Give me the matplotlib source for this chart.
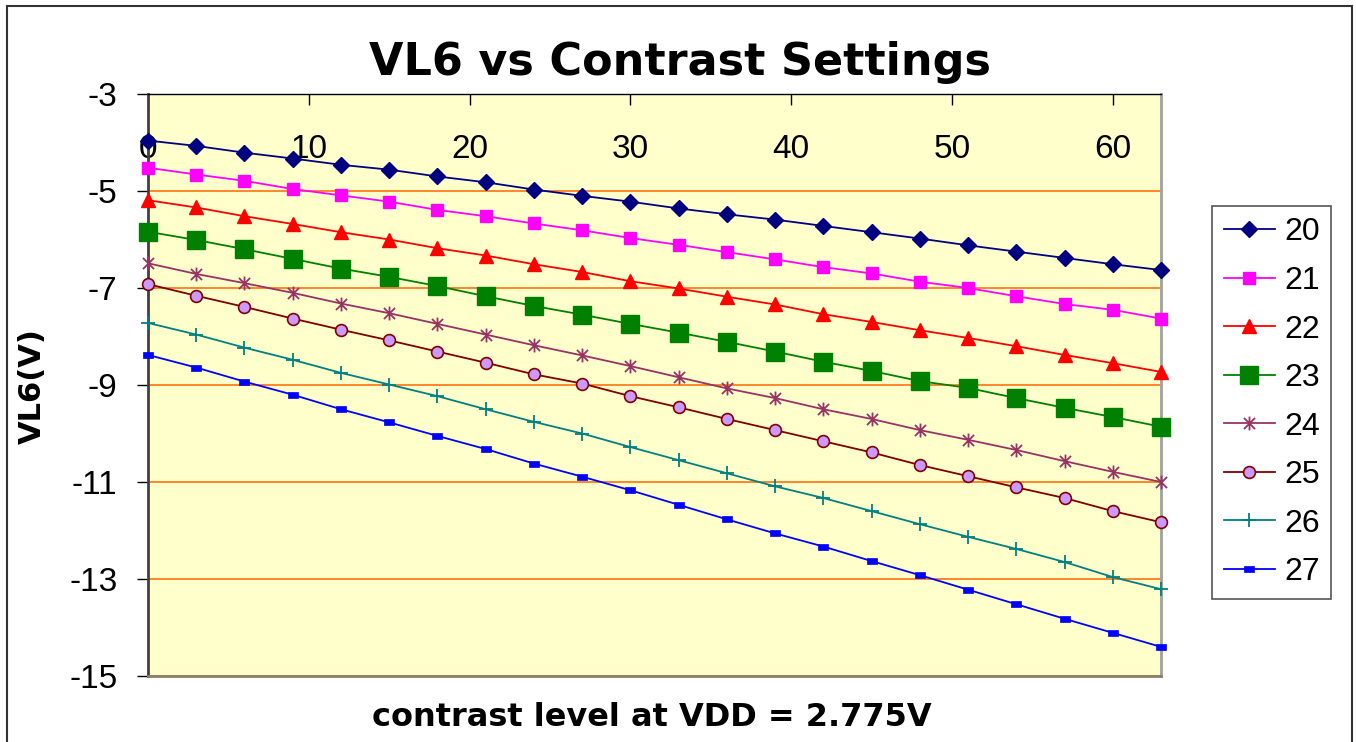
import matplotlib
matplotlib.use("Agg")
import matplotlib.pyplot as plt
from matplotlib.path import Path
from matplotlib.patches import Rectangle

plt.rcParams['font.family'] = ['Liberation Sans', 'DejaVu Sans']

contrast = [0, 3, 6, 9, 12, 15, 18, 21, 24, 27, 30, 33, 36, 39, 42, 45, 48, 51, 54, 57, 60, 63]

v20 = [-3.96, -4.07, -4.21, -4.33, -4.46, -4.56, -4.70, -4.82, -4.97, -5.10, -5.22,
       -5.36, -5.48, -5.59, -5.72, -5.85, -5.98, -6.12, -6.25, -6.38, -6.51, -6.63]
v21 = [-4.52, -4.66, -4.79, -4.96, -5.09, -5.22, -5.39, -5.52, -5.67, -5.81, -5.97,
       -6.11, -6.26, -6.41, -6.57, -6.70, -6.87, -7.00, -7.17, -7.33, -7.45, -7.63]
v22 = [-5.19, -5.34, -5.52, -5.68, -5.85, -6.00, -6.18, -6.33, -6.51, -6.67, -6.86,
       -7.01, -7.18, -7.34, -7.54, -7.70, -7.87, -8.03, -8.20, -8.38, -8.55, -8.73]
v23 = [-5.84, -6.01, -6.20, -6.40, -6.60, -6.77, -6.96, -7.17, -7.37, -7.55, -7.74,
       -7.92, -8.11, -8.31, -8.52, -8.71, -8.92, -9.06, -9.27, -9.47, -9.66, -9.86]
v24 = [-6.49, -6.71, -6.90, -7.10, -7.32, -7.52, -7.74, -7.96, -8.18, -8.39, -8.61,
       -8.84, -9.07, -9.27, -9.50, -9.70, -9.93, -10.13, -10.34, -10.57, -10.79, -11.00]
v25 = [-6.92, -7.16, -7.39, -7.63, -7.86, -8.08, -8.31, -8.54, -8.78, -8.97, -9.23,
       -9.46, -9.70, -9.93, -10.16, -10.39, -10.65, -10.88, -11.11, -11.33, -11.60, -11.83]
v26 = [-7.72, -7.96, -8.23, -8.48, -8.75, -8.99, -9.23, -9.50, -9.76, -10.00, -10.28,
       -10.55, -10.82, -11.09, -11.33, -11.60, -11.87, -12.13, -12.38, -12.65, -12.96, -13.21]
v27 = [-8.38, -8.64, -8.93, -9.20, -9.50, -9.77, -10.05, -10.32, -10.62, -10.89, -11.17,
       -11.47, -11.77, -12.06, -12.33, -12.63, -12.92, -13.22, -13.52, -13.82, -14.11, -14.40]

series_labels = ['20', '21', '22', '23', '24', '25', '26', '27']
series_values = [v20, v21, v22, v23, v24, v25, v26, v27]

x_ticks = [0, 10, 20, 30, 40, 50, 60]
y_ticks = [-3, -5, -7, -9, -11, -13, -15]

# custom markers (Excel-like)
star_path = Path([(0, -1), (0, 1), (-0.8, -0.8), (0.8, 0.8), (-0.8, 0.8), (0.8, -0.8)],
                 [Path.MOVETO, Path.LINETO, Path.MOVETO, Path.LINETO, Path.MOVETO, Path.LINETO])
dash_path = Path([(-1, -0.55), (1, -0.55), (1, 0.55), (-1, 0.55), (-1, -0.55)],
                 [Path.MOVETO, Path.LINETO, Path.LINETO, Path.LINETO, Path.CLOSEPOLY])

styles = [
    dict(color='#000080', marker='D', markersize=8, mfc='#000080', mec='#000080'),
    dict(color='#FF00FF', marker='s', markersize=9, mfc='#FF00FF', mec='#FF00FF'),
    dict(color='#FF0000', marker='^', markersize=10, mfc='#FF0000', mec='#FF0000'),
    dict(color='#008000', marker='s', markersize=12.5, mfc='#008000', mec='#008000'),
    dict(color='#993366', marker=star_path, markersize=10, mfc='none', mec='#993366', mew=1.3),
    dict(color='#800000', marker='o', markersize=8.5, mfc='#CC99FF', mec='#800000', mew=1.2),
    dict(color='#008080', marker='+', markersize=10, mec='#008080', mew=1.3),
    dict(color='#0000FF', marker=dash_path, markersize=7, mfc='#0000FF', mec='#0000FF', mew=0.5),
]

fig = plt.figure(figsize=(13.56, 7.42), dpi=100)
fig.patch.set_facecolor('white')

# outer frame of chart area
fig.patches.append(Rectangle((7 / 1356, -0.02), (1352 - 7) / 1356, 1 - 6 / 742 + 0.02,
                             transform=fig.transFigure, fill=False, edgecolor='#333333',
                             linewidth=1.5, figure=fig))

ax = fig.add_axes([148 / 1356, 1 - 676 / 742, (1161 - 148) / 1356, (676 - 94) / 742])
ax.set_facecolor('#FFFFCC')

for lab, vals, st in zip(series_labels, series_values, styles):
    ax.plot(contrast, vals, label=lab, linewidth=1.3, clip_on=False, zorder=3, **st)

ax.set_xlim(0, 63)
ax.set_ylim(-15, -3)
ax.set_yticks(y_ticks)
ax.set_yticklabels([str(t) for t in y_ticks], fontsize=24)
ax.yaxis.grid(True, color='#FF6600', linewidth=1.1)
ax.set_axisbelow(True)

ax.set_xticks(x_ticks, [str(t) for t in x_ticks], fontsize=24, va='center')
ax.tick_params(axis='x', bottom=False, labelbottom=False, top=True, labeltop=True,
               direction='in', length=8, width=1, pad=-40)
ax.tick_params(axis='y', direction='out', length=8, width=1, pad=14)

ax.spines['top'].set_color('black')
ax.spines['top'].set_linewidth(1)
ax.spines['left'].set_color('#404040')
ax.spines['left'].set_linewidth(2)
ax.spines['bottom'].set_color('#8C7E6B')
ax.spines['bottom'].set_linewidth(2)
ax.spines['right'].set_color('#A0A0A0')
ax.spines['right'].set_linewidth(2)

fig.text(680 / 1356, 1 - 62 / 742, 'VL6 vs Contrast Settings', ha='center', va='center',
         fontsize=32, fontweight='bold', family='DejaVu Sans')
fig.text(652 / 1356, 1 - 717 / 742, 'contrast level at VDD = 2.775V', ha='center', va='center',
         fontsize=23, fontweight='bold', family='DejaVu Sans')
fig.text(32 / 1356, 1 - 386 / 742, 'VL6(V)', ha='center', va='center', rotation=90,
         fontsize=22, fontweight='bold', family='DejaVu Sans')

leg = ax.legend(loc='upper left', bbox_to_anchor=(1212 / 1356, 1 - 206 / 742),
                bbox_transform=fig.transFigure, borderaxespad=0, fontsize=23,
                frameon=True, fancybox=False, edgecolor='#555555', framealpha=1,
                handlelength=1.6, handletextpad=0.3, labelspacing=0.58,
                borderpad=0.36)
leg.get_frame().set_linewidth(1.2)

fig.savefig('out.png', dpi=100, facecolor='white')
